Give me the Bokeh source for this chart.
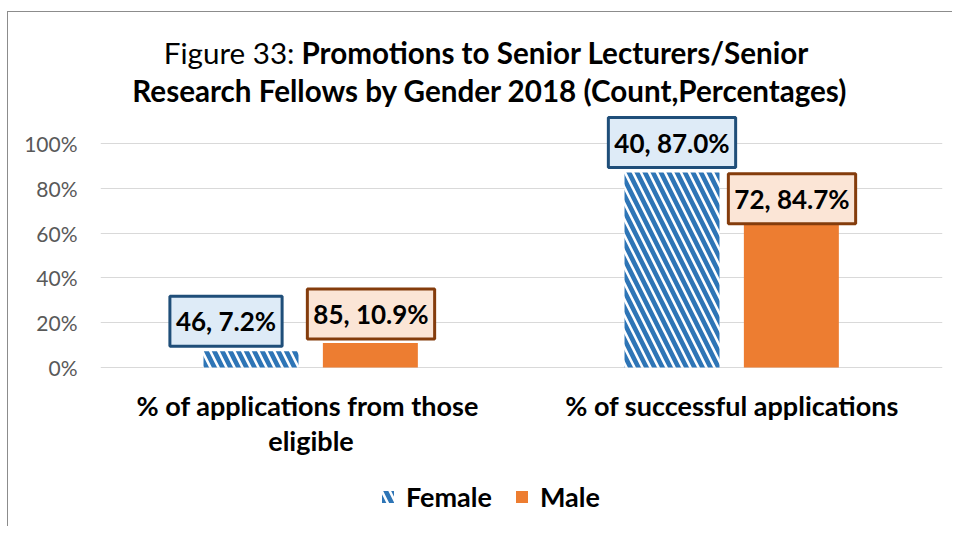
from bokeh.plotting import figure
from bokeh.models import (ColumnDataSource, FactorRange, Range1d, Label, Legend,
                          LegendItem, NumeralTickFormatter, FixedTicker)
from bokeh.transform import dodge
from bokeh.embed import file_html
from bokeh.resources import INLINE

# ---- data ----
categories = ["% of applications from those eligible", "% of successful applications"]
category_lines = [["%  of applications from those", "eligible"], ["% of successful applications"]]
female_pct = [7.2, 87.0]
male_pct = [10.9, 84.7]
female_count = [46, 40]
male_count = [85, 72]
y_ticks = [0, 20, 40, 60, 80, 100]
series_names = ["Female", "Male"]

# ---- styles / layout ----
FONT = "Lato"
BLUE = "#2E75B6"
ORANGE = "#ED7D31"
FEMALE_LABEL = dict(fill="#DEEBF7", border="#1F4E79")
MALE_LABEL = dict(fill="#FBE5D6", border="#843C0C")
female_nudge = [(-85, 30), (-60, 30)]   # label box offsets (px)
male_nudge = [(60, 29), (60, -21)]

W, H = 945, 515
LEFT, RIGHT = 92, 11          # plot-area margins (px)
ZERO_PX = 355                 # 0% line, px from top of canvas
UNIT_PX = 224                 # px for 100%
y_lo = -(H - ZERO_PX) / UNIT_PX
y_hi = 1 + (ZERO_PX - UNIT_PX) / UNIT_PX

p = figure(width=W, height=H,
           x_range=FactorRange(*categories, range_padding=0),
           y_range=Range1d(y_lo, y_hi),
           output_backend="svg", toolbar_location=None,
           min_border_left=LEFT, min_border_right=RIGHT,
           min_border_top=0, min_border_bottom=0)
p.outline_line_color = None
p.styles = {"margin-left": "7px", "margin-top": "11px",
            "border-left": "1px solid #8c8c8c", "border-top": "1px solid #8c8c8c"}

src = ColumnDataSource(dict(cat=categories,
                            female=[v / 100 for v in female_pct],
                            male=[v / 100 for v in male_pct]))

rf = p.vbar(x=dodge("cat", -0.1425, range=p.x_range), top="female", width=0.2256,
            source=src, fill_color="white", line_color=None,
            hatch_pattern="\\", hatch_color=BLUE, hatch_scale=16, hatch_weight=4.6)
rm = p.vbar(x=dodge("cat", 0.141, range=p.x_range), top="male", width=0.2256,
            source=src, fill_color=ORANGE, line_color=None)

# axes / grid
p.xgrid.visible = False
ticker = FixedTicker(ticks=[t / 100 for t in y_ticks])
p.ygrid.ticker = ticker
p.ygrid.grid_line_color = "#D9D9D9"
p.ygrid.grid_line_width = 1
p.yaxis.ticker = ticker
p.yaxis.formatter = NumeralTickFormatter(format="0%")
p.yaxis.axis_line_color = None
p.yaxis.major_tick_line_color = None
p.yaxis.minor_tick_line_color = None
p.yaxis.major_tick_out = 0
p.yaxis.major_tick_in = 0
p.yaxis.major_label_standoff = 23
p.yaxis.major_label_text_font = FONT
p.yaxis.major_label_text_font_size = "21px"
p.yaxis.major_label_text_color = "#595959"
p.xaxis.visible = False

# synthetic coordinate of each category centre on the factor range
cat_x = [i + 0.5 for i in range(len(categories))]

# category labels
for i, lines in enumerate(category_lines):
    for j, line in enumerate(lines):
        p.add_layout(Label(x=cat_x[i], y=0, y_offset=-38 - 35 * j, text=line,
                           text_align="center", text_baseline="middle",
                           text_font=FONT, text_font_style="bold",
                           text_font_size="27px", text_color="#000000"))

# value labels
def add_value_label(cx, val, cnt, nudge, sty):
    p.add_layout(Label(x=cx, y=val / 100, x_offset=nudge[0], y_offset=nudge[1],
                       text=f"{cnt}, {val:.1f}%", text_align="center",
                       text_baseline="middle", text_font=FONT,
                       text_font_style="bold", text_font_size="26px",
                       text_color="#000000",
                       background_fill_color=sty["fill"],
                       border_line_color=sty["border"], border_line_width=3,
                       padding=(6, 9)))

for i in range(len(categories)):
    add_value_label(cat_x[i], female_pct[i], female_count[i], female_nudge[i], FEMALE_LABEL)
    add_value_label(cat_x[i], male_pct[i], male_count[i], male_nudge[i], MALE_LABEL)

# title
TITLE_SIZE = "29.6px"
p.add_layout(Label(x=cat_x[0], y=1, x_offset=-16.5, y_offset=91, text="Figure 33:",
                   text_align="right", text_baseline="middle", text_font=FONT,
                   text_font_size=TITLE_SIZE, text_color="#000000"))
p.add_layout(Label(x=cat_x[0], y=1, x_offset=-9.5, y_offset=91,
                   text="Promotions to Senior Lecturers/Senior",
                   text_align="left", text_baseline="middle", text_font=FONT,
                   text_font_style="bold", text_font_size=TITLE_SIZE, text_color="#000000"))
p.add_layout(Label(x=cat_x[0], y=1, x_offset=179, y_offset=53,
                   text="Research Fellows by Gender 2018 (Count,Percentages)",
                   text_align="center", text_baseline="middle", text_font=FONT,
                   text_font_style="bold", text_font_size=TITLE_SIZE, text_color="#000000"))

# legend
legend = Legend(items=[LegendItem(label=series_names[0], renderers=[rf]),
                       LegendItem(label=series_names[1], renderers=[rm])],
                orientation="horizontal", location=(280, 14),
                padding=0, margin=0, spacing=22, label_standoff=11,
                glyph_width=15, glyph_height=15, label_height=30,
                label_text_font=FONT, label_text_font_style="bold",
                label_text_font_size="27px", label_text_color="#000000",
                border_line_color=None, background_fill_alpha=0)
p.add_layout(legend, "center")

open("out.html", "w").write(file_html(p, INLINE))
